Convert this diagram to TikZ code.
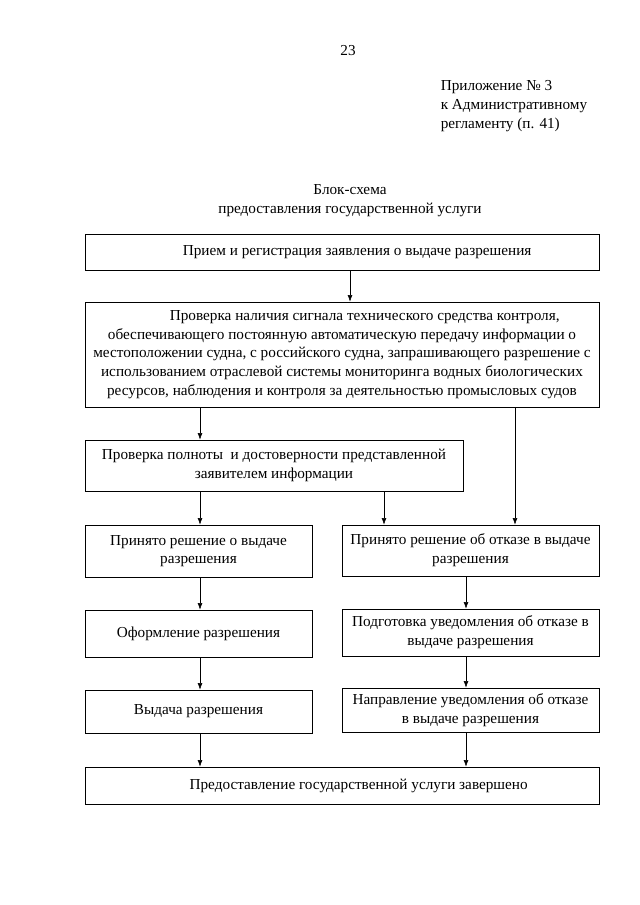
\documentclass[tikz,border=0pt]{standalone}
\usepackage{fontspec}
\setmainfont{Liberation Serif}
\usetikzlibrary{arrows.meta}
\tikzset{
	blok/.style={draw, line width=0.6pt, inner sep=0pt, align=center},
	strel/.style={line width=0.5pt, -{Latex[length=2.2mm,width=1.6mm]}},
}
\begin{document}
\begin{tikzpicture}[x=0.33mm, y=-0.33mm, font=\fontsize{14.3}{17.6}\selectfont]
		\useasboundingbox (0,0) rectangle (640,905);
		\node at (348,51) (nomer) {23};
		\node [anchor=north west, align=left] at (437,77) (prilozh) {Приложение № 3\\к Административному\\регламенту (п. 41)};
		\node [align=center] at (350,201) (zagolov) {Блок-схема\\предоставления государственной услуги};
		\node [blok, minimum width=169.62mm, minimum height=11.88mm] at (342,252) (priem) {\hspace*{10mm}Прием и регистрация заявления о выдаче разрешения};
		\node [blok, minimum width=169.62mm, minimum height=34.65mm] at (342,354.5) (proverk) {\hspace*{15mm}Проверка наличия сигнала технического средства контроля,\\обеспечивающего постоянную автоматическую передачу информации о\\местоположении судна, с российского судна, запрашивающего разрешение с\\использованием отраслевой системы мониторинга водных биологических\\ресурсов, наблюдения и контроля за деятельностью промысловых судов};
		\node [blok, minimum width=124.74mm, minimum height=16.83mm] at (274,465.5) (polnot) {Проверка полноты\ \ и достоверности представленной\\заявителем информации};
		\node [blok, minimum width=74.91mm, minimum height=17.16mm] at (198.5,551) (vydach) {Принято решение о выдаче\\разрешения};
		\node [blok, minimum width=84.81mm, minimum height=16.83mm] at (470.5,550.5) (otkaz) {Принято решение об отказе в выдаче\\разрешения};
		\node [blok, minimum width=74.91mm, minimum height=15.51mm] at (198.5,633.5) (oform) {Оформление разрешения};
		\node [blok, minimum width=84.81mm, minimum height=15.51mm] at (470.5,632.5) (podgot) {Подготовка уведомления об отказе в\\выдаче разрешения};
		\node [blok, minimum width=74.91mm, minimum height=14.19mm] at (198.5,711.5) (vydacha) {Выдача разрешения};
		\node [blok, minimum width=84.81mm, minimum height=14.52mm] at (470.5,710) (napravl) {Направление уведомления об отказе\\в выдаче разрешения};
		\node [blok, minimum width=169.62mm, minimum height=12.21mm] at (342,785.5) (zaversh) {\hspace*{11mm}Предоставление государственной услуги завершено};
		\coordinate (k1) at (350,0);
		\coordinate (k2) at (200,0);
		\coordinate (k3) at (384,0);
		\coordinate (k4) at (515,0);
		\coordinate (k5) at (466,0);
		\draw [strel] (priem.south -| k1) -- (proverk.north -| k1);
		\draw [strel] (proverk.south -| k2) -- (polnot.north -| k2);
		\draw [strel] (proverk.south -| k4) -- (otkaz.north -| k4);
		\draw [strel] (polnot.south -| k2) -- (vydach.north -| k2);
		\draw [strel] (polnot.south -| k3) -- (otkaz.north -| k3);
		\draw [strel] (vydach.south -| k2) -- (oform.north -| k2);
		\draw [strel] (otkaz.south -| k5) -- (podgot.north -| k5);
		\draw [strel] (oform.south -| k2) -- (vydacha.north -| k2);
		\draw [strel] (podgot.south -| k5) -- (napravl.north -| k5);
		\draw [strel] (vydacha.south -| k2) -- (zaversh.north -| k2);
		\draw [strel] (napravl.south -| k5) -- (zaversh.north -| k5);
		\end{tikzpicture}
\end{document}
